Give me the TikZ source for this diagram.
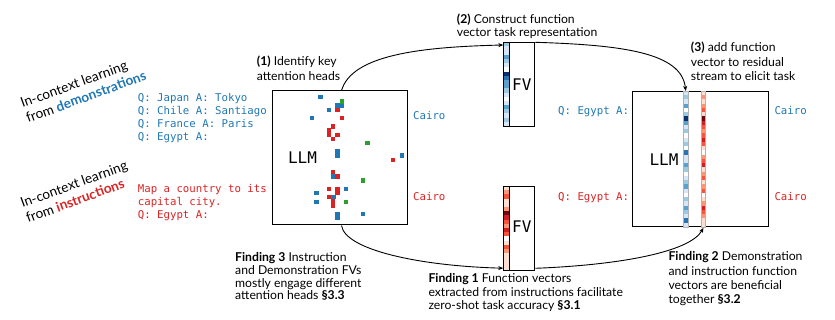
\documentclass[tikz,border=0pt]{standalone}
\usepackage{fontspec}
\setmainfont{Lato}
\newfontfamily\codefont{DejaVu Sans Mono}
\usetikzlibrary{arrows.meta,calc}
\definecolor{tblue}{RGB}{31,119,180}
\definecolor{tred}{RGB}{220,35,35}
\definecolor{tgreen}{RGB}{44,160,44}
\definecolor{bA}{RGB}{255,255,255}
\definecolor{bB}{RGB}{214,230,244}
\definecolor{bC}{RGB}{158,202,225}
\definecolor{bD}{RGB}{90,160,205}
\definecolor{bE}{RGB}{40,115,180}
\definecolor{bF}{RGB}{8,48,107}
\definecolor{rA}{RGB}{255,255,255}
\definecolor{rB}{RGB}{253,222,210}
\definecolor{rC}{RGB}{250,150,120}
\definecolor{rD}{RGB}{245,85,60}
\definecolor{rE}{RGB}{210,30,35}
\definecolor{rF}{RGB}{110,5,15}
\tikzset{
  code/.style={font=\codefont\fontsize{10.7}{13}\selectfont, inner sep=0, anchor=mid west},
  note/.style={font=\fontsize{12.2}{14}\selectfont, inner sep=0, anchor=mid west},
  big/.style={font=\fontsize{13.6}{16}\selectfont, inner sep=0, anchor=base west},
  box/.style={draw=black, line width=1pt, inner sep=0},
  mono/.style={font=\codefont\fontsize{16}{18}\selectfont, inner sep=0},
  conn/.style={line width=0.9pt, -{Stealth[length=5pt,width=4pt]}},
  sq/.style={inner sep=0, minimum size=4.3pt},
}
\begin{document}
\begin{tikzpicture}[x=1pt,y=-1pt]
\useasboundingbox (0,0) rectangle (835,320);

% left titles
\node[big] (t1a) at (19,108) {\rotatebox{20}{In-context learning}};
\node[big] (t1b) at (24.5,123) {\rotatebox{20}{from \textcolor{tblue}{\textbf{demonstrations}}}};
\node[big] (t2a) at (19,208) {\rotatebox{20}{In-context learning}};
\node[big] (t2b) at (24.5,223) {\rotatebox{20}{from \textcolor{tred}{\textbf{instructions}}}};

% prompts
\node[code, text=tblue] (d1) at (137.7,99.3) {Q: Japan A: Tokyo};
\node[code, text=tblue] (d2) at (137.7,112.3) {Q: Chile A: Santiago};
\node[code, text=tblue] (d3) at (137.7,125.3) {Q: France A: Paris};
\node[code, text=tblue] (d4) at (137.7,138.3) {Q: Egypt A:};
\node[code, text=tred] (i1) at (137.7,190) {Map a country to its};
\node[code, text=tred] (i2) at (137.7,203.3) {capital city.};
\node[code, text=tred] (i3) at (137.7,216.3) {Q: Egypt A:};

% left LLM
\node[box, minimum width=135pt, minimum height=134pt] (llm1) at (339.5,158) {};
\node[mono] (llm1t) at (302.5,158) {LLM};
\foreach \x/\y [count=\i] in {318/95,335/103.3,339.3/103.3,326.7/107.7,309.3/116,335/149.3,335/153.6,399.3/153.3,330.7/174.3,343.3/186.7,314/191,331/195,314/199.5,335/211.7,335/216,360.7/211.7}
  \node[sq, fill=tblue, anchor=north west] (hb\i) at (\x,\y) {};
\foreach \x/\y [count=\i] in {339.3/99.3,365/141,360.7/178.3,343.3/199.5}
  \node[sq, fill=tgreen, anchor=north west] (hg\i) at (\x,\y) {};
\foreach \x/\y [count=\i] in {335/107.6,339.3/116,330.7/124.3,326.7/128.3,326.7/132.6,335/132.7,330.7/136.9,390.7/157.7,330.7/170,335/174.3,326.7/186.7,335/186.7,335/191,326.7/195,330.7/199.3,330.7/203.6}
  \node[sq, fill=tred, anchor=north west] (hr\i) at (\x,\y) {};
\node[code, text=tblue] (c1) at (413,117.3) {Cairo};
\node[code, text=tred] (c2) at (413,198.3) {Cairo};

% top FV
\foreach \c [count=\i from 0] in {bC,bB,bB,bD,bC,bB,bA,bF,bE,bD,bD,bC,bB,bA,bB,bD,bC,bB,bC,bB}
  \fill[\c] (503.3,42.3+\i*4.185) rectangle ++(6,4.185);
\node[box, anchor=north west, minimum width=6pt, minimum height=83.7pt, line width=0.9pt] (fv1v) at (503.3,42.3) {};
\node[box, anchor=north west, minimum width=25pt, minimum height=83.7pt] (fv1) at (509.3,42.3) {};
\node[mono] (fv1t) at (521.8,84.2) {FV};

% bottom FV
\foreach \c [count=\i from 0] in {rB,rC,rD,rB,rB,rC,rF,rE,rD,rC,rE,rD,rA,rB,rD,rC,rB,rB,rB,rB}
  \fill[\c] (503.3,186+\i*4.2) rectangle ++(6,4.2);
\node[box, anchor=north west, minimum width=6pt, minimum height=84pt, line width=0.9pt] (fv2v) at (503.3,186) {};
\node[box, anchor=north west, minimum width=25pt, minimum height=84pt] (fv2) at (509.3,186) {};
\node[mono] (fv2t) at (521.8,227) {FV};

% right LLM
\node[box, minimum width=135.6pt, minimum height=135pt] (llm2) at (700.5,159.2) {};
\node[mono] (llm2t) at (664,160) {LLM};
\foreach \c [count=\i from 0] in {bB,bC,bB,bD,bA,bC,bF,bD,bB,bC,bA,bB,bC,bA,bE,bB,bB,bD,bC,bA,bB,bC,bD,bB,bA,bC,bB,bD,bC,bB,bE,bB}
  \fill[\c] (683,91+\i*4.25) rectangle ++(4.5,4.25);
\foreach \c [count=\i from 0] in {rB,rC,rB,rC,rD,rB,rF,rE,rD,rC,rD,rE,rD,rB,rA,rC,rD,rE,rB,rC,rD,rB,rC,rD,rA,rB,rC,rE,rD,rC,rB,rB}
  \fill[\c] (700.8,91+\i*4.25) rectangle ++(4.5,4.25);
\node[draw=gray!60, line width=0.8pt, anchor=north west, inner sep=0, minimum width=4.5pt, minimum height=136pt] (vb) at (683,91) {};
\node[draw=gray!60, line width=0.8pt, anchor=north west, inner sep=0, minimum width=4.5pt, minimum height=136pt] (vr) at (700.8,91) {};
\node[code, text=tblue] (e1) at (558,111.7) {Q: Egypt A:};
\node[code, text=tred] (e2) at (558,198.3) {Q: Egypt A:};
\node[code, text=tblue] (c3) at (774.3,111.7) {Cairo};
\node[code, text=tred] (c4) at (774.3,198.3) {Cairo};

% step notes
\node[note] (s1a) at (256.7,63.3) {\textbf{(1)} Identify key};
\node[note] (s1b) at (256.7,77.8) {attention heads};
\node[note] (s2a) at (456.7,20.7) {\textbf{(2)} Construct function};
\node[note] (s2b) at (456.7,34.3) {vector task representation};
\node[note] (s3a) at (690.7,49.3) {\textbf{(3)} add function};
\node[note] (s3b) at (690.7,63.6) {vector to residual};
\node[note] (s3c) at (690.7,78) {stream to elicit task};

% findings
\node[note] (f3a) at (235,259) {\textbf{Finding 3} Instruction};
\node[note] (f3b) at (235,271.8) {and Demonstration FVs};
\node[note] (f3c) at (235,284.6) {mostly engage different};
\node[note] (f3d) at (235,297.4) {attention heads \textbf{§3.3}};
\node[note] (f1a) at (428.3,280) {\textbf{Finding 1} Function vectors};
\node[note] (f1b) at (428.3,293.6) {extracted from instructions facilitate};
\node[note] (f1c) at (428.3,307.2) {zero-shot task accuracy \textbf{§3.1}};
\node[note] (f2a) at (668.3,258.3) {\textbf{Finding 2} Demonstration};
\node[note] (f2b) at (668.3,272.6) {and instruction function};
\node[note] (f2c) at (668.3,286.9) {vectors are beneficial};
\node[note] (f2d) at (668.3,301.2) {together \textbf{§3.2}};

% connectors
\draw[conn] ([xshift=2pt]llm1.north) .. controls (352,55) and (420,47) .. ([yshift=-2.7pt]fv1v.north west);
\draw[conn] (fv1.north east) .. controls (620,45) and (682,52) .. (vb.north);
\draw[conn] ([xshift=2pt]llm1.south) .. controls (345,250) and (420,266) .. ([yshift=2.7pt]fv2v.south west);
\draw[conn] ([yshift=2.7pt]fv2.south east) .. controls (620,265) and (690,252) .. (vr.south);
\end{tikzpicture}
\end{document}
